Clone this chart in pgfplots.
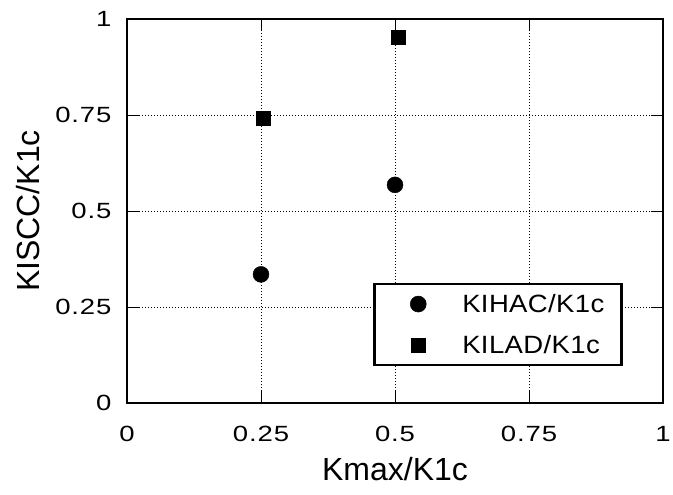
\documentclass[border=0pt]{standalone}
\usepackage{fontspec}
\setmainfont{Liberation Sans}
\newfontfamily\tickfont[FakeStretch=1.25, LetterSpace=4, Scale=2.2]{Liberation Sans}
\newfontfamily\legfont[FakeStretch=1.1, LetterSpace=1.5, Scale=2.5]{Liberation Sans}
\newfontfamily\labfont[Scale=3.2]{Liberation Sans}
\usepackage{pgfplots}
\pgfplotsset{compat=1.18}
\begin{document}
\begin{tikzpicture}
\begin{axis}[
  scale only axis, width=536pt, height=384pt,
  xmin=0, xmax=1, ymin=0, ymax=1,
  xtick={0,0.25,0.5,0.75,1}, ytick={0,0.25,0.5,0.75,1},
  xticklabels={0,0.25,0.5,0.75,1}, yticklabels={0,0.25,0.5,0.75,1},
  major tick length=12pt,
  tick style={black, line width=0.9pt},
  axis line style={line width=1.3pt},
  grid=major, grid style={black, dash pattern=on 1.2pt off 1.8pt, line width=0.8pt},
  ticklabel style={font=\tickfont},
  xticklabel style={yshift=-20pt},
  yticklabel style={xshift=-12pt},
  xlabel={Kmax/K1c}, ylabel={KISCC/K1c},
  label style={font=\labfont},
  xlabel style={yshift=-8pt},
  ylabel style={yshift=9pt},
  legend style={at={(0.459,0.3125)}, anchor=north west, draw=black, /tikz/line width=2.5pt,
    font=\legfont, inner xsep=15pt, inner ysep=8pt, row sep=17.5pt,
    /tikz/every odd column/.append style={column sep=34pt}},
  legend cell align=left,
  legend image code/.code={\path[draw=none,fill=none] (0,-1pt) rectangle (1pt,1pt); \draw[#1, line width=0.5pt] plot coordinates {(29pt,0)};},
]
\addplot[only marks, mark=*, mark size=8pt, black] coordinates {(0.25,0.335) (0.5,0.568)};
\addlegendentry{KIHAC/K1c}
\addplot[only marks, mark=square*, mark size=7.3pt, black] coordinates {(0.254,0.742) (0.506,0.953)};
\addlegendentry{KILAD/K1c}
\end{axis}
\pgfresetboundingbox
\useasboundingbox (current axis.south west) ++(-127pt,-92pt) rectangle ++(673pt,495pt);
\end{tikzpicture}
\end{document}
